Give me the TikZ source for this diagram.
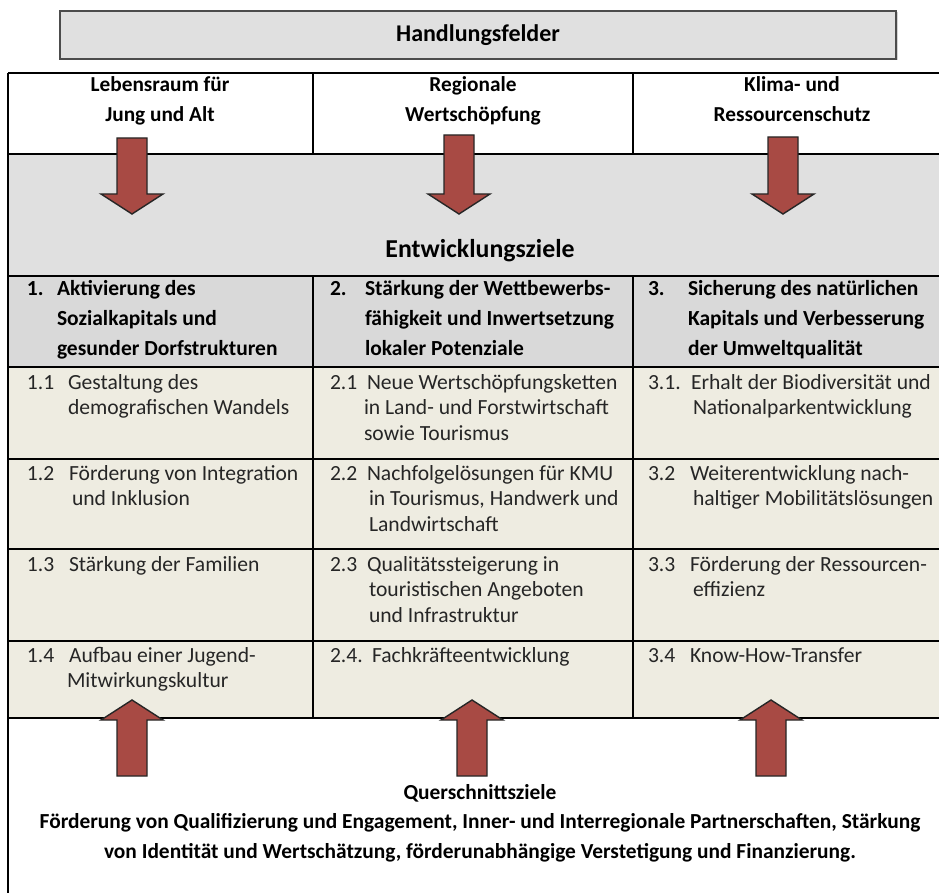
\documentclass[tikz,border=0pt]{standalone}
\usepackage{fontspec}
\setmainfont{Carlito}
\usetikzlibrary{shadows}

\definecolor{kastengrau}{HTML}{E0E0E0}
\definecolor{zielgrau}{HTML}{D9D9D9}
\definecolor{massnbeige}{HTML}{EEECE1}
\definecolor{pfeilrot}{HTML}{A84A44}

\begin{document}
\begin{tikzpicture}[
          x=1pt, y=-1pt,
          every node/.style={inner sep=0pt, outer sep=0pt},
          titel/.style={draw=black!70, line width=1.2pt, fill=kastengrau, minimum width=836, minimum height=48,
                        font=\bfseries\fontsize{24}{28}\selectfont,
                        drop shadow={shadow xshift=1.5pt, shadow yshift=-1.5pt, opacity=0.35}},
          feld/.style={font=\bfseries\fontsize{21.3}{30}\selectfont, align=center, anchor=base},
          ziel/.style={font=\bfseries\fontsize{21.5}{30}\selectfont, align=left, anchor=base west},
          massn/.style={text=black!85, font=\fontsize{21.6}{25.5}\selectfont, align=left, anchor=base west},
          quer/.style={font=\bfseries\fontsize{21.4}{29.5}\selectfont, align=center, anchor=base},
          linie/.style={line width=1.4pt},
          pfeil/.style={draw=black!85, line width=1.4pt, fill=pfeilrot, line join=miter}
        ]
        \useasboundingbox (0,0) rectangle (939,893);

        % Flaechen
        \fill[kastengrau] (8,154) rectangle (939,276);
        \fill[zielgrau] (8,276) rectangle (939,367);
        \fill[massnbeige] (8,367) rectangle (939,718);

        % Tabelle
        \foreach \yy in {73,154,276,367,459,549,641,718}
          \draw[linie] (8,\yy) -- (939,\yy);
        \draw[linie] (8,73) -- (8,893);
        \foreach \xx in {313,633} {
          \draw[linie] (\xx,73) -- (\xx,154);
          \draw[linie] (\xx,276) -- (\xx,718);
        }

        \node[titel] (felder) at (478,35) {Handlungsfelder};

        % Handlungsfelder (Anker = letzte Zeile)
        \node[feld] (lebensraum) at (160,122) {Lebensraum für\\Jung und Alt};
        \node[feld] (wertschoepfung) at (473,122) {Regionale\\Wertschöpfung};
        \node[feld] (klima) at (792,122) {Klima- und\\Ressourcenschutz};

        % Pfeile nach unten / oben
        \foreach \cx/\top in {132/138, 459/135, 783/137}
          \draw[pfeil] (\cx-15,\top) -- (\cx+15,\top) -- (\cx+15,194) -- (\cx+31,194)
            -- (\cx,214) -- (\cx-31,194) -- (\cx-15,194) -- cycle;
        \foreach \cx in {132, 472, 771}
          \draw[pfeil] (\cx-15,776) -- (\cx+15,776) -- (\cx+15,720) -- (\cx+31,720)
            -- (\cx,700) -- (\cx-31,720) -- (\cx-15,720) -- cycle;

        \node[font=\bfseries\fontsize{25.8}{30}\selectfont, anchor=base] (entwicklung) at (480,258) {Entwicklungsziele};

        % Entwicklungsziele
        \node[ziel] (z1n) at (27,295) {1.};
        \node[ziel] (z1) at (57,355) {Aktivierung des\\Sozialkapitals und\\gesunder Dorfstrukturen};
        \node[ziel] (z2n) at (330,295) {2.};
        \node[ziel] (z2) at (365,355) {Stärkung der Wettbewerbs-\\fähigkeit und Inwertsetzung\\lokaler Potenziale};
        \node[ziel] (z3n) at (648,295) {3.};
        \node[ziel] (z3) at (688,355) {Sicherung des natürlichen\\Kapitals und Verbesserung\\der Umweltqualität};

        % Massnahmen Spalte 1
        \node[massn] (m11n) at (27,389) {1.1};
        \node[massn] (m11) at (68,414.5) {Gestaltung des\\demografischen Wandels};
        \node[massn] (m12n) at (27,480) {1.2};
        \node[massn] (m12) at (69,505.5) {Förderung von Integration\\\hspace*{3pt}und Inklusion};
        \node[massn] (m13n) at (27,571) {1.3};
        \node[massn] (m13) at (69,571) {Stärkung der Familien};
        \node[massn] (m14n) at (27,662) {1.4};
        \node[massn] (m14) at (69,687.5) {Aufbau einer Jugend-\\\hspace*{-2pt}Mitwirkungskultur};

        % Massnahmen Spalte 2
        \node[massn] (m21n) at (330,389) {2.1};
        \node[massn] (m21) at (367,440) {Neue Wertschöpfungsketten\\\hspace*{-3pt}in Land- und Forstwirtschaft\\\hspace*{-3pt}sowie Tourismus};
        \node[massn] (m22n) at (330,480) {2.2};
        \node[massn] (m22) at (367,531) {Nachfolgelösungen für KMU\\\hspace*{2pt}in Tourismus, Handwerk und\\\hspace*{2pt}Landwirtschaft};
        \node[massn] (m23n) at (330,571) {2.3};
        \node[massn] (m23) at (367,622) {Qualitätssteigerung in\\\hspace*{2pt}touristischen Angeboten\\\hspace*{2pt}und Infrastruktur};
        \node[massn] (m24n) at (330,662) {2.4.};
        \node[massn] (m24) at (372,662) {Fachkräfteentwicklung};

        % Massnahmen Spalte 3
        \node[massn] (m31n) at (648,389) {3.1.};
        \node[massn] (m31) at (691,414.5) {Erhalt der Biodiversität und\\\hspace*{2pt}Nationalparkentwicklung};
        \node[massn] (m32n) at (648,480) {3.2};
        \node[massn] (m32) at (690,505.5) {Weiterentwicklung nach-\\\hspace*{3pt}haltiger Mobilitätslösungen};
        \node[massn] (m33n) at (648,571) {3.3};
        \node[massn] (m33) at (690,596.5) {Förderung der Ressourcen-\\\hspace*{3pt}effizienz};
        \node[massn] (m34n) at (648,662) {3.4};
        \node[massn] (m34) at (690,662) {Know-How-Transfer};

        % Querschnittsziele
        \node[quer] (querschnitt) at (480,858) {Querschnittsziele\\Förderung von Qualifizierung und Engagement, Inner- und Interregionale Partnerschaften, Stärkung\\von Identität und Wertschätzung, förderunabhängige Verstetigung und Finanzierung.};
        \end{tikzpicture}
\end{document}
